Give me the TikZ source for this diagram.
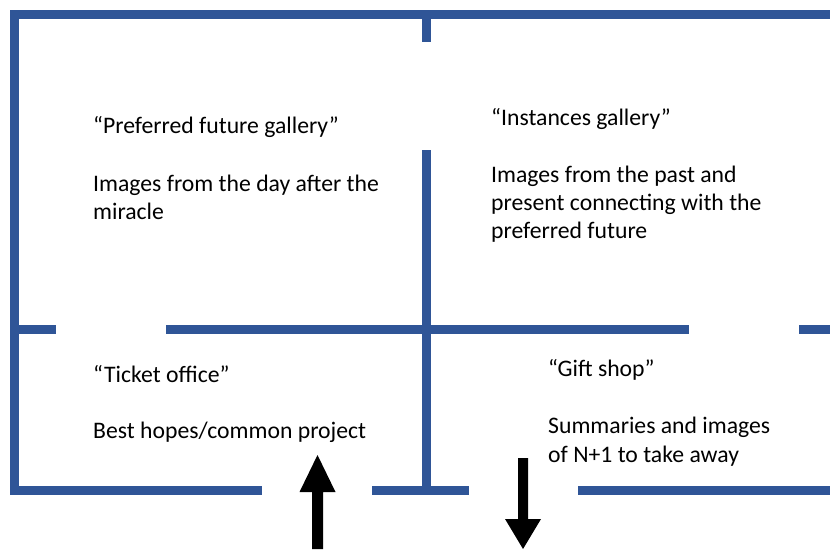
\documentclass[tikz,border=0pt]{standalone}
\usepackage{fontspec}
\setmainfont{Carlito}
\definecolor{wall}{HTML}{2F5597}
\begin{document}
\begin{tikzpicture}[x=1pt,y=-1pt,
  wallline/.style={draw=wall,line width=9pt,line cap=butt},
  lbl/.style={anchor=base west,inner sep=0pt,font=\fontsize{23.7}{28}\selectfont},
  arrowshape/.style={fill=black,draw=none}]
\useasboundingbox (0,0) rectangle (830,549);
% walls
\draw[wallline] (10,14.5) -- (830,14.5);
\draw[wallline] (14.5,10) -- (14.5,495);
\draw[wallline] (426,14) -- (426,41.5);
\draw[wallline] (426,150) -- (426,490);
\draw[wallline] (14,329) -- (56,329);
\draw[wallline] (166,329) -- (689,329);
\draw[wallline] (799,329) -- (830,329);
\draw[wallline] (10,490.5) -- (262,490.5);
\draw[wallline] (372,490.5) -- (469,490.5);
\draw[wallline] (578,490.5) -- (830,490.5);
% arrows
\fill[arrowshape] (312,549) -- (312,492) -- (299.5,492) -- (317.5,455) -- (335.5,492) -- (323,492) -- (323,549) -- cycle;
\fill[arrowshape] (518,458) -- (518,519) -- (505,519) -- (523,549) -- (541,519) -- (528,519) -- (528,458) -- cycle;
% texts
\node[lbl] (t1) at (93,133) {“Preferred future gallery”};
\node[lbl] (t2) at (93,191) {Images from the day after the};
\node[lbl] (t3) at (93,219) {miracle};
\node[lbl] (t4) at (491,125) {“Instances gallery”};
\node[lbl] (t5) at (491,182) {Images from the past and};
\node[lbl] (t6) at (491,210) {present connecting with the};
\node[lbl] (t7) at (491,238) {preferred future};
\node[lbl] (t8) at (93,382) {“Ticket office”};
\node[lbl] (t9) at (93,438) {Best hopes/common project};
\node[lbl] (t10) at (548,376) {“Gift shop”};
\node[lbl] (t11) at (548,433) {Summaries and images};
\node[lbl] (t12) at (548,462) {of N+1 to take away};
\end{tikzpicture}
\end{document}
